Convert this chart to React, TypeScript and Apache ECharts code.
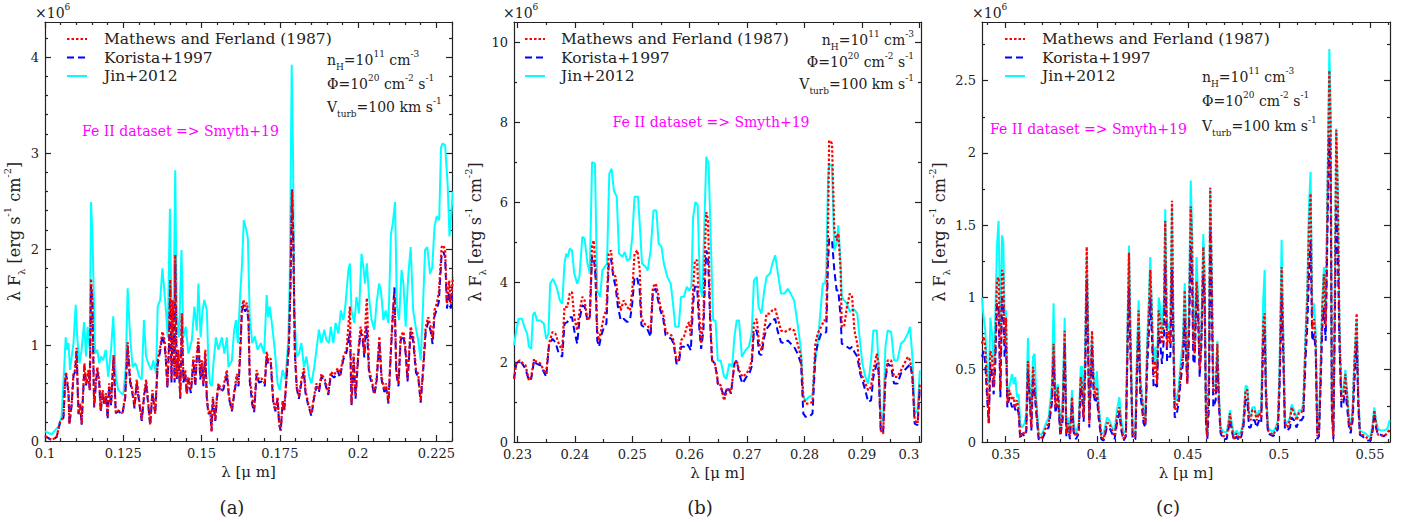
import React, { useEffect, useRef } from "react";
import * as echarts from "echarts";

const NAME_MF = "Mathews and Ferland (1987)";
const NAME_K = "Korista+1997";
const NAME_J = "Jin+2012";

// ---------- Panel (a): [wavelength (µm), Mathews&Ferland, Korista] (×1e6) ----------
const panelA_MF_Korista: [number, number, number][] = [
  [0.1000,0.05,0.05],[0.1021,0.01,0.01],[0.1037,0.04,0.04],[0.1048,0.20,0.19],[0.1059,0.25,0.24],
  [0.1064,0.63,0.60],[0.1067,0.72,0.70],[0.1075,0.53,0.50],[0.1078,0.18,0.17],[0.1085,0.39,0.37],
  [0.1091,0.70,0.68],[0.1096,0.74,0.72],[0.1101,0.97,0.94],[0.1104,0.60,0.58],[0.1107,0.29,0.28],
  [0.1112,0.39,0.38],[0.1117,0.18,0.17],[0.1126,0.81,0.78],[0.1131,0.60,0.58],[0.1139,0.74,0.71],
  [0.1143,0.53,0.52],[0.1147,1.69,1.62],[0.1151,1.50,1.45],[0.1157,0.36,0.35],[0.1162,0.60,0.58],
  [0.1167,0.77,0.74],[0.1173,0.64,0.62],[0.1178,0.32,0.30],[0.1184,0.53,0.50],[0.1190,0.39,0.37],
  [0.1195,0.50,0.48],[0.1200,0.25,0.23],[0.1205,0.60,0.57],[0.1211,0.39,0.37],[0.1219,0.90,0.87],
  [0.1226,0.30,0.29],[0.1234,0.32,0.31],[0.1247,0.29,0.28],[0.1256,0.46,0.44],[0.1264,1.03,0.98],
  [0.1272,0.64,0.61],[0.1279,0.53,0.50],[0.1286,0.36,0.34],[0.1293,0.64,0.61],[0.1302,0.39,0.37],
  [0.1309,0.22,0.21],[0.1317,0.50,0.48],[0.1323,0.64,0.60],[0.1330,0.39,0.37],[0.1336,0.17,0.16],
  [0.1343,0.53,0.50],[0.1352,0.29,0.28],[0.1360,0.84,0.80],[0.1368,0.98,0.94],[0.1375,1.14,1.10],
  [0.1382,1.05,1.00],[0.1386,0.88,0.84],[0.1391,0.57,0.55],[0.1396,1.02,0.98],[0.1400,1.68,1.60],
  [0.1404,0.64,0.61],[0.1408,1.47,1.40],[0.1414,0.64,0.61],[0.1416,1.94,1.85],[0.1421,0.67,0.64],
  [0.1426,0.95,0.91],[0.1432,0.46,0.44],[0.1437,1.33,1.27],[0.1442,0.64,0.61],[0.1448,0.74,0.70],
  [0.1453,0.50,0.48],[0.1458,0.67,0.64],[0.1466,0.53,0.50],[0.1474,0.88,0.84],[0.1480,0.60,0.57],
  [0.1485,0.91,0.87],[0.1490,1.07,1.02],[0.1496,0.67,0.64],[0.1501,0.84,0.80],[0.1506,0.60,0.57],
  [0.1512,0.95,0.91],[0.1517,0.46,0.44],[0.1522,0.29,0.28],[0.1528,0.32,0.31],[0.1532,0.10,0.10],
  [0.1536,0.46,0.44],[0.1544,0.22,0.21],[0.1549,0.46,0.44],[0.1554,0.60,0.57],[0.1563,0.53,0.51],
  [0.1570,0.57,0.54],[0.1581,0.74,0.70],[0.1588,0.46,0.44],[0.1597,0.32,0.31],[0.1605,0.53,0.50],
  [0.1613,0.70,0.67],[0.1618,0.60,0.57],[0.1623,0.91,0.87],[0.1629,1.40,1.35],[0.1634,1.47,1.42],
  [0.1639,1.40,1.35],[0.1645,1.44,1.38],[0.1650,1.30,1.25],[0.1654,0.67,0.62],[0.1662,0.45,0.38],
  [0.1668,0.32,0.30],[0.1676,0.74,0.70],[0.1683,0.64,0.61],[0.1692,0.65,0.62],[0.1702,0.60,0.57],
  [0.1708,0.93,0.89],[0.1713,0.84,0.80],[0.1721,0.86,0.82],[0.1729,0.42,0.40],[0.1736,0.32,0.31],
  [0.1743,0.46,0.44],[0.1748,0.18,0.17],[0.1753,0.11,0.11],[0.1759,0.42,0.40],[0.1764,0.32,0.31],
  [0.1772,0.70,0.67],[0.1779,1.02,0.98],[0.1784,1.64,1.60],[0.1789,2.61,2.62],[0.1793,2.13,2.10],
  [0.1798,0.95,0.91],[0.1804,0.57,0.55],[0.1811,0.46,0.44],[0.1819,0.64,0.61],[0.1827,0.76,0.72],
  [0.1832,0.53,0.50],[0.1841,0.39,0.37],[0.1851,0.29,0.26],[0.1859,0.46,0.44],[0.1867,0.60,0.57],
  [0.1875,0.53,0.51],[0.1883,0.70,0.67],[0.1894,0.64,0.61],[0.1905,0.50,0.48],[0.1913,0.72,0.69],
  [0.1924,0.69,0.66],[0.1935,0.76,0.73],[0.1942,0.69,0.66],[0.1953,0.88,0.85],[0.1963,0.95,0.92],
  [0.1974,1.40,1.15],[0.1979,0.39,0.37],[0.1986,0.91,0.87],[0.1992,0.46,0.44],[0.2001,0.95,0.91],
  [0.2008,1.19,1.14],[0.2015,1.09,1.04],[0.2020,0.91,0.87],[0.2024,1.26,1.10],[0.2028,1.49,1.20],
  [0.2035,0.74,0.70],[0.2043,0.64,0.61],[0.2052,0.50,0.48],[0.2059,0.64,0.61],[0.2068,1.09,1.04],
  [0.2075,0.67,0.64],[0.2084,0.53,0.51],[0.2089,0.60,0.57],[0.2097,0.41,0.39],[0.2105,0.98,0.94],
  [0.2111,1.33,1.30],[0.2116,1.55,1.60],[0.2122,0.74,0.71],[0.2129,0.60,0.57],[0.2136,1.09,1.05],
  [0.2145,1.14,1.10],[0.2152,0.95,0.91],[0.2158,0.65,0.62],[0.2168,1.19,1.14],[0.2176,1.09,1.04],
  [0.2185,0.74,0.71],[0.2192,0.70,0.67],[0.2200,0.42,0.40],[0.2208,0.77,0.74],[0.2216,1.19,1.14],
  [0.2224,1.29,1.24],[0.2232,1.19,1.14],[0.2238,1.05,1.01],[0.2244,1.36,1.30],[0.2251,1.43,1.37],
  [0.2258,1.55,1.45],[0.2267,2.02,1.95],[0.2272,2.04,1.97],[0.2278,1.99,1.92],[0.2284,1.43,1.38],
  [0.2291,1.67,1.55],[0.2296,1.43,1.38],[0.2303,1.71,1.60],
];

// Panel (a): [wavelength, Jin+2012]
const panelA_Jin: [number, number][] = [
  [0.1000,0.10],[0.1021,0.07],[0.1043,0.15],[0.1053,0.25],[0.1062,0.81],[0.1066,1.08],[0.1071,0.95],
  [0.1075,1.02],[0.1080,0.74],[0.1091,1.02],[0.1098,1.42],[0.1103,1.08],[0.1110,0.81],[0.1117,0.95],
  [0.1125,1.24],[0.1131,0.88],[0.1136,1.19],[0.1143,0.95],[0.1147,2.49],[0.1152,2.09],[0.1160,0.91],
  [0.1167,0.95],[0.1173,0.81],[0.1179,0.88],[0.1186,0.84],[0.1194,0.95],[0.1202,0.67],[0.1211,0.95],
  [0.1218,1.30],[0.1226,0.67],[0.1234,0.53],[0.1250,0.48],[0.1258,0.77],[0.1264,1.59],[0.1272,1.08],
  [0.1280,0.77],[0.1288,0.81],[0.1293,0.77],[0.1301,0.67],[0.1309,0.64],[0.1316,1.26],[0.1323,0.88],
  [0.1330,0.81],[0.1339,0.74],[0.1346,0.84],[0.1355,0.70],[0.1360,1.40],[0.1368,1.47],[0.1375,1.80],
  [0.1381,1.57],[0.1387,1.33],[0.1392,1.08],[0.1399,2.42],[0.1403,1.47],[0.1409,0.91],[0.1416,2.82],
  [0.1421,1.30],[0.1428,1.08],[0.1436,1.99],[0.1442,1.08],[0.1450,1.19],[0.1458,0.91],[0.1469,1.05],
  [0.1477,1.40],[0.1485,1.15],[0.1490,1.64],[0.1497,1.08],[0.1503,1.36],[0.1509,1.47],[0.1517,1.36],
  [0.1522,0.81],[0.1527,0.60],[0.1533,0.57],[0.1538,0.81],[0.1546,1.08],[0.1554,0.95],[0.1565,1.08],
  [0.1573,0.91],[0.1581,1.08],[0.1586,0.77],[0.1597,0.84],[0.1604,1.15],[0.1610,1.26],[0.1616,1.02],
  [0.1623,1.50],[0.1629,1.82],[0.1635,2.30],[0.1643,2.20],[0.1648,2.11],[0.1654,1.29],[0.1662,1.02],
  [0.1670,1.09],[0.1679,0.95],[0.1689,1.02],[0.1700,0.91],[0.1708,1.52],[0.1713,1.29],[0.1718,1.40],
  [0.1726,1.19],[0.1734,0.95],[0.1743,0.60],[0.1750,0.53],[0.1759,0.74],[0.1768,0.64],[0.1777,1.05],
  [0.1782,1.71],[0.1788,3.92],[0.1792,3.03],[0.1796,1.36],[0.1804,0.88],[0.1811,0.91],[0.1819,1.02],
  [0.1827,0.77],[0.1835,0.88],[0.1844,0.67],[0.1851,0.60],[0.1860,0.77],[0.1867,0.95],[0.1875,1.16],
  [0.1883,1.02],[0.1892,1.16],[0.1899,1.05],[0.1907,1.02],[0.1913,1.19],[0.1921,1.02],[0.1928,1.23],
  [0.1937,1.12],[0.1945,1.36],[0.1953,1.26],[0.1960,1.43],[0.1969,1.78],[0.1974,1.85],[0.1979,1.36],
  [0.1988,1.23],[0.1995,1.50],[0.2003,1.33],[0.2011,1.95],[0.2017,1.81],[0.2022,1.64],[0.2028,1.85],
  [0.2035,1.50],[0.2043,1.26],[0.2052,1.16],[0.2059,1.43],[0.2067,1.64],[0.2073,1.57],[0.2081,1.26],
  [0.2088,1.36],[0.2097,1.23],[0.2105,2.16],[0.2111,2.27],[0.2118,2.49],[0.2124,1.40],[0.2131,1.26],
  [0.2139,1.78],[0.2145,1.64],[0.2152,1.19],[0.2160,1.71],[0.2168,2.02],[0.2176,1.36],[0.2184,1.19],
  [0.2192,1.05],[0.2200,0.84],[0.2206,1.29],[0.2214,1.99],[0.2221,2.02],[0.2230,1.74],[0.2237,1.81],
  [0.2244,2.23],[0.2251,2.34],[0.2259,2.30],[0.2265,3.06],[0.2270,3.10],[0.2278,3.08],[0.2286,2.68],
  [0.2292,2.13],[0.2297,2.34],[0.2303,2.60],
];

// ---------- Panel (b): [wavelength, Mathews&Ferland, Korista] ----------
const panelB_MF_Korista: [number, number, number][] = [
  [0.2294,1.58,1.58],[0.2298,1.96,1.96],[0.2304,2.04,2.04],[0.2310,1.96,1.92],[0.2314,1.92,1.83],
  [0.2320,1.54,1.54],[0.2324,1.63,1.58],[0.2329,2.08,2.04],[0.2333,2.00,1.96],[0.2340,1.96,1.92],
  [0.2346,1.79,1.75],[0.2350,1.71,1.63],[0.2355,2.46,2.42],[0.2361,2.75,2.58],[0.2366,2.71,2.50],
  [0.2372,2.46,2.21],[0.2378,2.29,2.13],[0.2382,3.38,2.96],[0.2387,3.38,3.00],[0.2391,3.71,3.12],
  [0.2395,3.75,3.12],[0.2399,3.12,2.79],[0.2404,2.79,2.46],[0.2408,3.25,3.04],[0.2413,3.63,3.42],
  [0.2417,3.54,3.38],[0.2422,3.04,3.04],[0.2426,3.12,3.12],[0.2430,4.92,4.63],[0.2433,5.04,4.63],
  [0.2436,4.29,4.13],[0.2439,2.79,2.54],[0.2442,2.54,2.38],[0.2447,2.88,2.71],[0.2451,3.17,2.88],
  [0.2455,3.29,2.96],[0.2459,4.71,4.46],[0.2463,4.79,4.58],[0.2467,4.21,4.13],[0.2471,4.13,3.88],
  [0.2475,3.63,3.38],[0.2480,3.29,3.04],[0.2485,3.54,3.08],[0.2491,3.38,3.00],[0.2496,3.29,3.04],
  [0.2500,3.79,3.46],[0.2504,4.71,4.13],[0.2509,4.79,4.08],[0.2513,4.29,3.79],[0.2516,3.12,2.92],
  [0.2520,2.96,2.88],[0.2526,2.92,2.83],[0.2532,2.79,2.63],[0.2536,3.88,3.79],[0.2541,3.96,3.83],
  [0.2545,3.71,3.54],[0.2549,3.38,3.29],[0.2554,3.21,3.08],[0.2558,2.79,2.67],[0.2562,2.71,2.63],
  [0.2568,2.67,2.58],[0.2572,2.54,2.46],[0.2577,2.04,1.96],[0.2581,2.04,1.96],[0.2585,2.54,2.38],
  [0.2590,2.63,2.38],[0.2595,2.88,2.46],[0.2599,3.00,2.38],[0.2602,2.63,2.29],[0.2606,3.79,3.46],
  [0.2609,4.54,3.88],[0.2613,4.54,3.88],[0.2617,3.12,2.79],[0.2620,2.46,2.33],[0.2624,3.12,2.79],
  [0.2627,4.96,4.13],[0.2629,5.75,4.79],[0.2632,5.54,4.63],[0.2636,3.12,2.88],[0.2639,2.04,2.04],
  [0.2644,1.96,1.96],[0.2648,1.63,1.63],[0.2649,1.46,1.46],[0.2654,1.42,1.38],[0.2660,1.04,1.13],
  [0.2666,1.33,1.38],[0.2672,1.25,1.21],[0.2678,1.96,1.96],[0.2682,2.04,2.04],[0.2686,1.79,1.71],
  [0.2692,1.63,1.46],[0.2699,1.71,1.63],[0.2704,1.83,1.71],[0.2708,2.04,1.88],[0.2712,2.96,2.79],
  [0.2717,3.08,2.79],[0.2721,2.46,2.21],[0.2725,2.29,2.17],[0.2730,2.79,2.63],[0.2734,3.21,2.83],
  [0.2739,3.21,2.92],[0.2744,3.29,3.04],[0.2749,3.33,3.08],[0.2753,3.12,2.79],[0.2759,2.79,2.50],
  [0.2765,2.75,2.46],[0.2771,2.79,2.54],[0.2776,2.83,2.46],[0.2782,2.79,2.38],[0.2788,2.46,2.21],
  [0.2794,2.13,1.96],[0.2798,1.13,0.71],[0.2802,0.96,0.63],[0.2808,0.96,0.63],[0.2814,1.00,0.71],
  [0.2819,2.46,2.13],[0.2823,2.71,2.46],[0.2829,2.88,2.71],[0.2834,3.04,2.71],[0.2838,3.04,2.75],
  [0.2841,5.29,4.46],[0.2843,7.54,5.08],[0.2848,7.46,5.04],[0.2852,5.29,4.29],[0.2856,5.04,3.79],
  [0.2859,5.21,3.79],[0.2863,4.29,3.12],[0.2865,2.88,2.46],[0.2869,2.88,2.42],[0.2874,3.38,2.38],
  [0.2879,3.71,2.33],[0.2883,3.63,2.38],[0.2887,2.79,2.25],[0.2892,2.46,2.13],[0.2897,1.79,1.71],
  [0.2901,1.63,1.54],[0.2906,1.46,1.29],[0.2911,1.29,1.00],[0.2916,1.38,1.04],[0.2920,1.79,1.63],
  [0.2926,2.21,1.96],[0.2929,1.96,1.79],[0.2933,0.29,0.25],[0.2937,0.21,0.25],[0.2941,1.63,1.54],
  [0.2945,2.04,1.96],[0.2951,2.04,1.88],[0.2956,1.63,1.46],[0.2962,1.63,1.46],[0.2968,1.79,1.71],
  [0.2974,1.96,1.79],[0.2980,2.13,1.88],[0.2984,2.04,1.96],[0.2988,1.63,1.63],[0.2992,0.54,0.46],
  [0.2997,0.46,0.42],[0.3001,1.46,1.38],
];

// Panel (b): [wavelength, Jin+2012]
const panelB_Jin: [number, number][] = [
  [0.2294,2.42],[0.2298,2.79],[0.2302,3.08],[0.2308,3.08],[0.2312,2.88],[0.2317,2.71],[0.2320,2.38],
  [0.2324,2.33],[0.2327,3.17],[0.2330,3.25],[0.2334,3.04],[0.2340,3.04],[0.2346,2.96],[0.2350,2.58],
  [0.2354,2.71],[0.2357,3.96],[0.2362,4.08],[0.2368,3.88],[0.2374,3.54],[0.2378,3.46],[0.2382,4.46],
  [0.2385,4.71],[0.2388,4.63],[0.2391,4.83],[0.2395,4.79],[0.2399,4.21],[0.2404,3.96],[0.2408,4.13],
  [0.2413,5.13],[0.2417,5.08],[0.2422,4.46],[0.2426,4.21],[0.2430,7.00],[0.2435,6.96],[0.2439,3.79],
  [0.2444,3.63],[0.2448,4.29],[0.2452,4.38],[0.2456,4.46],[0.2460,6.71],[0.2464,6.83],[0.2468,6.29],
  [0.2473,6.13],[0.2477,4.71],[0.2483,4.63],[0.2487,4.75],[0.2491,4.54],[0.2496,4.58],[0.2500,5.13],
  [0.2504,6.13],[0.2510,6.13],[0.2513,5.46],[0.2517,4.46],[0.2523,4.38],[0.2527,4.29],[0.2532,4.79],
  [0.2537,5.79],[0.2542,5.79],[0.2546,4.96],[0.2551,4.88],[0.2555,4.46],[0.2561,4.13],[0.2567,3.96],
  [0.2571,3.46],[0.2575,2.88],[0.2581,2.88],[0.2585,3.63],[0.2590,3.63],[0.2595,3.88],[0.2599,3.79],
  [0.2603,3.88],[0.2606,5.63],[0.2610,6.00],[0.2614,5.92],[0.2618,3.88],[0.2622,3.63],[0.2626,5.63],
  [0.2629,7.13],[0.2633,6.96],[0.2638,4.46],[0.2641,3.04],[0.2645,3.04],[0.2649,2.04],[0.2654,2.04],
  [0.2660,1.63],[0.2664,1.58],[0.2669,1.96],[0.2674,1.88],[0.2678,2.63],[0.2682,3.04],[0.2686,3.04],
  [0.2691,2.13],[0.2697,2.29],[0.2703,2.38],[0.2708,2.71],[0.2712,4.04],[0.2717,4.13],[0.2720,3.38],
  [0.2725,3.21],[0.2730,3.79],[0.2734,4.13],[0.2740,4.21],[0.2744,4.46],[0.2749,4.67],[0.2753,4.29],
  [0.2759,3.71],[0.2765,3.71],[0.2771,3.83],[0.2776,3.71],[0.2782,3.54],[0.2788,2.96],[0.2794,2.29],
  [0.2798,1.13],[0.2802,1.04],[0.2808,1.13],[0.2814,1.17],[0.2819,2.13],[0.2823,2.46],[0.2827,3.12],
  [0.2832,3.96],[0.2836,3.96],[0.2838,4.29],[0.2841,6.54],[0.2843,6.96],[0.2848,6.88],[0.2852,4.79],
  [0.2856,4.96],[0.2859,5.42],[0.2863,4.46],[0.2865,3.63],[0.2869,3.54],[0.2874,3.46],[0.2879,3.25],
  [0.2884,3.33],[0.2888,3.29],[0.2892,3.21],[0.2897,2.46],[0.2901,1.96],[0.2906,1.63],[0.2911,1.46],
  [0.2916,2.04],[0.2920,2.79],[0.2926,2.79],[0.2929,1.96],[0.2933,0.54],[0.2937,0.54],[0.2941,2.38],
  [0.2945,2.79],[0.2951,2.75],[0.2956,2.04],[0.2962,2.04],[0.2968,2.46],[0.2974,2.54],[0.2980,2.71],
  [0.2984,2.88],[0.2988,2.13],[0.2992,0.71],[0.2997,0.79],[0.3001,1.79],
];

// ---------- Panel (c): [wavelength, Mathews&Ferland, Korista, Jin] ----------
const panelC_all: [number, number, number, number][] = [
  [0.3370,0.68,0.59,1.00],[0.3379,0.73,0.63,0.86],[0.3388,0.66,0.54,0.77],[0.3397,0.40,0.33,0.54],
  [0.3407,0.13,0.13,0.40],[0.3416,0.63,0.54,0.86],[0.3425,0.59,0.47,0.75],[0.3434,0.38,0.33,0.54],
  [0.3443,0.63,0.54,0.86],[0.3452,1.12,0.96,1.35],[0.3461,1.14,0.91,1.53],[0.3471,0.36,0.31,0.75],
  [0.3480,1.19,1.00,1.43],[0.3487,1.16,0.96,1.38],[0.3494,0.68,0.59,0.89],[0.3502,0.86,0.68,0.91],
  [0.3509,0.27,0.24,0.31],[0.3520,0.36,0.31,0.38],[0.3535,0.29,0.24,0.47],[0.3544,0.31,0.27,0.40],
  [0.3553,0.24,0.22,0.45],[0.3562,0.29,0.24,0.31],[0.3571,0.22,0.20,0.33],[0.3580,0.035,0.02,0.13],
  [0.3590,0.07,0.06,0.10],[0.3604,0.05,0.04,0.13],[0.3613,0.08,0.07,0.20],[0.3622,0.56,0.49,0.72],
  [0.3632,0.31,0.29,0.40],[0.3641,0.10,0.08,0.20],[0.3650,0.52,0.45,0.59],[0.3659,0.38,0.33,0.61],
  [0.3668,0.24,0.20,0.31],[0.3681,0.035,0.02,0.06],[0.3696,0.02,0.01,0.05],[0.3708,0.06,0.04,0.08],
  [0.3721,0.10,0.08,0.13],[0.3736,0.13,0.10,0.17],[0.3754,0.31,0.27,0.40],[0.3763,0.68,0.59,0.96],
  [0.3773,0.24,0.20,0.33],[0.3787,0.38,0.31,0.40],[0.3800,0.06,0.04,0.08],[0.3813,0.20,0.15,0.31],
  [0.3824,0.77,0.68,0.86],[0.3833,0.06,0.04,0.08],[0.3842,0.13,0.10,0.17],[0.3853,0.04,0.02,0.06],
  [0.3864,0.31,0.27,0.36],[0.3873,0.08,0.07,0.13],[0.3886,0.04,0.02,0.06],[0.3901,0.08,0.06,0.13],
  [0.3912,0.45,0.38,0.52],[0.3919,0.40,0.33,0.52],[0.3928,0.17,0.14,0.22],[0.3937,0.59,0.49,0.68],
  [0.3945,1.35,1.12,1.28],[0.3952,0.77,0.66,0.84],[0.3959,0.13,0.10,0.17],[0.3974,0.77,0.66,0.75],
  [0.3983,0.40,0.33,0.45],[0.3992,0.31,0.27,0.36],[0.4001,0.38,0.31,0.49],[0.4010,0.22,0.17,0.27],
  [0.4025,0.04,0.02,0.06],[0.4038,0.02,0.01,0.06],[0.4056,0.13,0.10,0.17],[0.4069,0.13,0.10,0.15],
  [0.4084,0.08,0.06,0.10],[0.4098,0.04,0.02,0.08],[0.4111,0.17,0.13,0.22],[0.4124,0.24,0.20,0.31],
  [0.4135,0.10,0.08,0.15],[0.4148,0.02,0.01,0.06],[0.4160,0.05,0.04,0.08],[0.4171,0.86,0.77,0.96],
  [0.4177,1.31,1.07,1.36],[0.4186,0.63,0.56,0.72],[0.4197,0.04,0.02,0.06],[0.4212,0.04,0.02,0.06],
  [0.4221,0.54,0.45,0.63],[0.4230,0.91,0.77,0.98],[0.4239,0.40,0.33,0.45],[0.4248,0.31,0.24,0.33],
  [0.4257,0.17,0.13,0.22],[0.4267,0.13,0.10,0.17],[0.4276,0.59,0.49,0.66],[0.4285,0.86,0.72,0.96],
  [0.4294,1.19,1.00,1.28],[0.4303,0.86,0.72,0.91],[0.4312,0.45,0.38,0.54],[0.4321,0.56,0.40,0.66],
  [0.4331,0.40,0.38,0.49],[0.4340,0.91,0.77,1.00],[0.4349,0.82,0.68,0.93],[0.4358,0.68,0.54,0.77],
  [0.4369,0.86,0.72,1.00],[0.4376,1.53,1.24,1.61],[0.4386,0.66,0.56,0.77],[0.4395,0.77,0.59,0.82],
  [0.4404,0.68,0.59,0.77],[0.4413,1.67,1.19,1.63],[0.4420,0.86,0.72,0.91],[0.4428,0.22,0.17,0.29],
  [0.4437,0.24,0.18,0.29],[0.4450,0.31,0.27,0.38],[0.4461,0.49,0.43,0.56],[0.4473,0.59,0.54,0.70],
  [0.4483,1.05,0.86,1.10],[0.4488,0.80,0.66,0.89],[0.4497,0.40,0.40,0.47],[0.4506,0.82,0.70,0.89],
  [0.4516,1.63,1.35,1.81],[0.4523,1.40,1.16,1.49],[0.4530,0.70,0.57,0.78],[0.4537,0.61,0.54,0.68],
  [0.4548,1.11,1.02,1.28],[0.4556,0.96,0.89,1.02],[0.4565,0.50,0.45,0.57],[0.4574,0.70,0.66,0.75],
  [0.4585,1.35,1.16,1.44],[0.4592,1.11,0.98,1.21],[0.4600,0.13,0.13,0.17],[0.4607,0.04,0.02,0.06],
  [0.4616,0.47,0.24,0.50],[0.4623,1.76,1.49,1.76],[0.4631,1.16,1.00,1.19],[0.4640,0.36,0.24,0.40],
  [0.4653,0.33,0.29,0.38],[0.4662,0.68,0.59,0.70],[0.4671,0.29,0.24,0.33],[0.4680,0.08,0.06,0.10],
  [0.4695,0.04,0.02,0.07],[0.4713,0.04,0.02,0.07],[0.4722,0.10,0.08,0.13],[0.4731,0.20,0.15,0.22],
  [0.4741,0.10,0.08,0.13],[0.4753,0.02,0.01,0.05],[0.4768,0.06,0.04,0.08],[0.4781,0.02,0.01,0.05],
  [0.4794,0.06,0.04,0.08],[0.4805,0.13,0.10,0.15],[0.4817,0.36,0.29,0.39],[0.4827,0.36,0.29,0.38],
  [0.4836,0.17,0.10,0.20],[0.4845,0.15,0.10,0.17],[0.4854,0.22,0.15,0.24],[0.4867,0.22,0.15,0.24],
  [0.4878,0.15,0.10,0.17],[0.4891,0.20,0.15,0.22],[0.4903,0.17,0.13,0.20],[0.4914,0.82,0.70,0.98],
  [0.4922,0.89,0.78,1.19],[0.4929,0.36,0.29,0.40],[0.4940,0.08,0.06,0.10],[0.4955,0.06,0.05,0.08],
  [0.4969,0.05,0.04,0.07],[0.4982,0.08,0.06,0.10],[0.4995,0.13,0.09,0.15],[0.5004,0.47,0.38,0.54],
  [0.5015,1.21,1.02,1.40],[0.5024,0.70,0.59,0.75],[0.5033,0.13,0.09,0.15],[0.5046,0.10,0.08,0.13],
  [0.5061,0.15,0.10,0.17],[0.5070,0.24,0.17,0.26],[0.5083,0.20,0.15,0.22],[0.5097,0.15,0.10,0.17],
  [0.5110,0.20,0.15,0.22],[0.5123,0.20,0.15,0.22],[0.5134,0.24,0.17,0.26],[0.5147,0.70,0.59,0.78],
  [0.5156,0.98,0.80,1.05],[0.5165,1.49,1.16,1.63],[0.5174,1.72,1.40,1.87],[0.5183,0.78,0.70,0.87],
  [0.5193,0.85,0.75,0.96],[0.5202,0.70,0.63,0.75],[0.5211,0.04,0.02,0.06],[0.5220,0.06,0.04,0.08],
  [0.5229,0.47,0.38,0.54],[0.5238,0.91,0.78,0.98],[0.5247,1.16,0.93,1.21],[0.5257,0.80,0.70,0.84],
  [0.5269,1.86,1.63,1.97],[0.5277,2.57,2.11,2.72],[0.5284,2.20,1.86,2.32],[0.5291,0.24,0.20,0.26],
  [0.5299,0.04,0.02,0.06],[0.5306,0.82,0.75,0.87],[0.5315,2.16,1.63,2.17],[0.5324,1.67,1.28,1.72],
  [0.5332,0.80,0.70,0.84],[0.5343,0.29,0.24,0.33],[0.5354,0.31,0.27,0.36],[0.5365,0.47,0.36,0.50],
  [0.5376,0.29,0.22,0.33],[0.5385,0.13,0.10,0.15],[0.5394,0.08,0.06,0.10],[0.5405,0.20,0.15,0.24],
  [0.5414,0.52,0.40,0.57],[0.5427,0.89,0.70,0.84],[0.5436,0.29,0.24,0.33],[0.5445,0.06,0.05,0.08],
  [0.5458,0.05,0.04,0.07],[0.5476,0.04,0.02,0.06],[0.5489,0.02,0.01,0.04],[0.5504,0.02,0.01,0.04],
  [0.5515,0.10,0.08,0.13],[0.5524,0.22,0.20,0.24],[0.5533,0.13,0.10,0.15],[0.5544,0.05,0.05,0.09],
  [0.5559,0.05,0.05,0.08],[0.5577,0.04,0.04,0.08],[0.5595,0.06,0.06,0.09],[0.5608,0.09,0.08,0.15],
];

// ---------- tick labels ----------
const xTicksA = [0.1, 0.125, 0.15, 0.175, 0.2, 0.225];
const yTicksA = [0, 1, 2, 3, 4];
const xTicksB = [0.23, 0.24, 0.25, 0.26, 0.27, 0.28, 0.29, 0.3];
const yTicksB = [0, 2, 4, 6, 8, 10];
const xTicksC = [0.35, 0.4, 0.45, 0.5, 0.55];
const yTicksC = [0, 0.5, 1, 1.5, 2, 2.5];

const FONT = "'DejaVu Serif', 'Liberation Serif', serif";
const INK = "#222222";
const RED = "#ff0000";
const BLUE = "#0000ff";
const CYAN = "#00ffff";
const MAGENTA = "#ff00ff";

const DASH_MF = [2.5, 2];
const DASH_K = [7, 4];

function steps(start: number, end: number, step: number, exclude: number[]) {
  const out: number[] = [];
  for (let i = 0; i < 1000; i++) {
    const v = +(start + i * step).toFixed(6);
    if (v > end + 1e-9) break;
    if (!exclude.some((e) => Math.abs(e - v) < 1e-9)) out.push(v);
  }
  return out;
}

function rich(size: number, color = INK) {
  const lh = size + 8;
  const s = Math.round(size * 0.64);
  return {
    n: { fontFamily: FONT, fontSize: size, color, lineHeight: lh, verticalAlign: "middle" },
    sup: { fontFamily: FONT, fontSize: s, color, lineHeight: s + 3, verticalAlign: "top" },
    sub: { fontFamily: FONT, fontSize: s, color, lineHeight: s + 3, verticalAlign: "bottom" },
  };
}

const fmt = (v: number) => String(parseFloat(Number(v).toFixed(4)));

type PanelCfg = {
  grid: { left: number; top: number; width: number; height: number };
  xMin: number; xMax: number; yMax: number;
  xTicks: number[]; yTicks: number[];
  xMinor: number[]; yMinor: number[];
  yNameGap: number;
  alignMax: string;
  mf: number[][]; kor: number[][]; jin: number[][];
};

const panels: PanelCfg[] = [
  {
    grid: { left: 45, top: 22, width: 407, height: 419 },
    xMin: 0.1, xMax: 0.23, yMax: 4.365,
    xTicks: xTicksA, yTicks: yTicksA,
    xMinor: steps(0.1, 0.23, 0.005, xTicksA), yMinor: steps(0, 4.3, 0.2, yTicksA),
    yNameGap: 14, alignMax: "center",
    mf: panelA_MF_Korista.map((r) => [r[0], r[1]]),
    kor: panelA_MF_Korista.map((r) => [r[0], r[2]]),
    jin: panelA_Jin.map((r) => [r[0], r[1]]),
  },
  {
    grid: { left: 514, top: 22, width: 407, height: 420 },
    xMin: 0.2294, xMax: 0.3003, yMax: 10.5,
    xTicks: xTicksB, yTicks: yTicksB,
    xMinor: steps(0.23, 0.3, 0.005, xTicksB), yMinor: steps(0, 10.4, 1, yTicksB),
    yNameGap: 19, alignMax: "right",
    mf: panelB_MF_Korista.map((r) => [r[0], r[1]]),
    kor: panelB_MF_Korista.map((r) => [r[0], r[2]]),
    jin: panelB_Jin.map((r) => [r[0], r[1]]),
  },
  {
    grid: { left: 982, top: 22, width: 408, height: 420 },
    xMin: 0.337, xMax: 0.561, yMax: 2.9065,
    xTicks: xTicksC, yTicks: yTicksC,
    xMinor: steps(0.34, 0.56, 0.01, xTicksC), yMinor: steps(0, 2.85, 0.25, yTicksC),
    yNameGap: 17, alignMax: "center",
    mf: panelC_all.map((r) => [r[0], r[1]]),
    kor: panelC_all.map((r) => [r[0], r[2]]),
    jin: panelC_all.map((r) => [r[0], r[3]]),
  },
];

const Y_NAME = "{n|λ F}{sub|λ}{n| [erg s}{sup|-1}{n| cm}{sup|-2}{n|]}";

function buildOption() {
  const xAxis: any[] = [];
  const yAxis: any[] = [];
  const series: any[] = [];
  const lineStyleAxis = { color: INK, width: 1.2 };

  panels.forEach((p, k) => {
    const xb = { gridIndex: k, type: "value", min: p.xMin, max: p.xMax, splitLine: { show: false } };
    const yb = { gridIndex: k, type: "value", min: 0, max: p.yMax, splitLine: { show: false } };
    xAxis.push({
      ...xb, position: "bottom",
      axisLine: { show: true, onZero: false, lineStyle: lineStyleAxis },
      axisTick: { show: true, inside: true, length: 6, customValues: p.xTicks, lineStyle: lineStyleAxis },
      axisLabel: {
        show: true, customValues: p.xTicks, formatter: fmt, margin: 6, fontFamily: FONT, fontSize: 13, color: INK,
        alignMaxLabel: p.alignMax,
      },
      name: "{n|λ [μ m]}", nameLocation: "middle", nameGap: 16,
      nameTextStyle: { fontFamily: FONT, fontSize: 15, color: INK, rich: rich(15) },
    });
    xAxis.push({
      ...xb, position: "bottom",
      axisLine: { show: false, onZero: false },
      axisTick: { show: true, inside: true, length: 3, customValues: p.xMinor, lineStyle: lineStyleAxis },
      axisLabel: { show: false },
    });
    xAxis.push({
      ...xb, position: "top",
      axisLine: { show: true, onZero: false, lineStyle: lineStyleAxis },
      axisTick: { show: true, inside: true, length: 6, customValues: p.xTicks, lineStyle: lineStyleAxis },
      axisLabel: { show: false },
    });
    xAxis.push({
      ...xb, position: "top",
      axisLine: { show: false, onZero: false },
      axisTick: { show: true, inside: true, length: 3, customValues: p.xMinor, lineStyle: lineStyleAxis },
      axisLabel: { show: false },
    });

    yAxis.push({
      ...yb, position: "left",
      axisLine: { show: true, onZero: false, lineStyle: lineStyleAxis },
      axisTick: { show: true, inside: true, length: 6, customValues: p.yTicks, lineStyle: lineStyleAxis },
      axisLabel: { show: true, customValues: p.yTicks, formatter: fmt, margin: 6, fontFamily: FONT, fontSize: 13, color: INK },
      name: Y_NAME, nameLocation: "middle", nameGap: p.yNameGap, nameRotate: 90,
      nameTextStyle: { fontFamily: FONT, fontSize: 16, color: INK, rich: rich(16) },
    });
    yAxis.push({
      ...yb, position: "left",
      axisLine: { show: false, onZero: false },
      axisTick: { show: true, inside: true, length: 3, customValues: p.yMinor, lineStyle: lineStyleAxis },
      axisLabel: { show: false },
    });
    yAxis.push({
      ...yb, position: "right",
      axisLine: { show: true, onZero: false, lineStyle: lineStyleAxis },
      axisTick: { show: true, inside: true, length: 6, customValues: p.yTicks, lineStyle: lineStyleAxis },
      axisLabel: { show: false },
    });
    yAxis.push({
      ...yb, position: "right",
      axisLine: { show: false, onZero: false },
      axisTick: { show: true, inside: true, length: 3, customValues: p.yMinor, lineStyle: lineStyleAxis },
      axisLabel: { show: false },
    });

    const common = { type: "line", xAxisIndex: 4 * k, yAxisIndex: 4 * k, symbol: "none", silent: true, clip: true };
    series.push({ ...common, name: NAME_J, data: p.jin, color: CYAN, lineStyle: { color: CYAN, width: 2 }, z: 2 });
    series.push({ ...common, name: NAME_K, data: p.kor, color: BLUE, lineStyle: { color: BLUE, width: 2, type: DASH_K }, z: 3 });
    series.push({ ...common, name: NAME_MF, data: p.mf, color: RED, lineStyle: { color: RED, width: 2.2, type: DASH_MF }, z: 4 });
  });

  const txt = (x: number, y: number, text: string, size: number, align = "left", color = INK) => ({
    type: "text", x, y, silent: true,
    style: { text, rich: rich(size, color), align, verticalAlign: "middle", fill: color, font: `${size}px ${FONT}` },
  });

  // legend drawn as graphic items: sample line + label
  const legendSpots = [
    { lineX: 67, textX: 104 },
    { lineX: 525, textX: 561 },
    { lineX: 1005, textX: 1042 },
  ];
  const legendRows = [
    { name: NAME_MF, color: RED, dash: DASH_MF, width: 2.2, y: 39 },
    { name: NAME_K, color: BLUE, dash: DASH_K, width: 2, y: 57.5 },
    { name: NAME_J, color: CYAN, dash: null as number[] | null, width: 2, y: 76 },
  ];
  const legendGraphics: any[] = [];
  legendSpots.forEach((s) => {
    legendRows.forEach((r) => {
      legendGraphics.push({
        type: "line", silent: true,
        shape: { x1: s.lineX, y1: r.y, x2: s.lineX + 20, y2: r.y },
        style: { stroke: r.color, lineWidth: r.width, lineDash: r.dash || undefined },
      });
      legendGraphics.push(txt(s.textX, r.y, `{n|${r.name}}`, 15.5));
    });
  });

  const NH = "{n|n}{sub|H}{n|=10}{sup|11}{n| cm}{sup|-3}";
  const PHI = "{n|Φ=10}{sup|20}{n| cm}{sup|-2}{n| s}{sup|-1}";
  const VT = "{n|V}{sub|turb}{n|=100 km s}{sup|-1}";
  const FE = "{n|Fe II dataset => Smyth+19}";
  const X6 = "{n|×10}{sup|6}";

  const graphic = [
    ...legendGraphics,
    txt(35, 13, X6, 14), txt(503, 13, X6, 14), txt(972, 13, X6, 14),
    txt(327, 60, NH, 14), txt(327, 84, PHI, 14), txt(327, 107, VT, 14),
    txt(82, 131, FE, 14, "left", MAGENTA),
    txt(914, 40, NH, 14, "right"), txt(914, 62, PHI, 14, "right"), txt(914, 84, VT, 14, "right"),
    txt(711, 122, FE, 14, "center", MAGENTA),
    txt(1202, 77, NH, 14), txt(1202, 101, PHI, 14), txt(1202, 126, VT, 14),
    txt(990, 129, FE, 14, "left", MAGENTA),
    txt(232, 507, "{n|(a)}", 18, "center"), txt(700, 507, "{n|(b)}", 18, "center"), txt(1168, 507, "{n|(c)}", 18, "center"),
  ];

  return {
    animation: false,
    backgroundColor: "#ffffff",
    grid: panels.map((p) => ({ ...p.grid, containLabel: false })),
    xAxis, yAxis, series, graphic,
  };
}

export default function App() {
  const ref = useRef<HTMLDivElement>(null);
  useEffect(() => {
    if (!ref.current) return;
    const chart = echarts.init(ref.current, undefined, { renderer: "svg" });
    chart.setOption(buildOption() as any);
    return () => chart.dispose();
  }, []);
  return (
    <div
      ref={ref}
      style={{ position: "absolute", left: 0, top: 0, width: 1402, height: 522, background: "#fff" }}
    />
  );
}
